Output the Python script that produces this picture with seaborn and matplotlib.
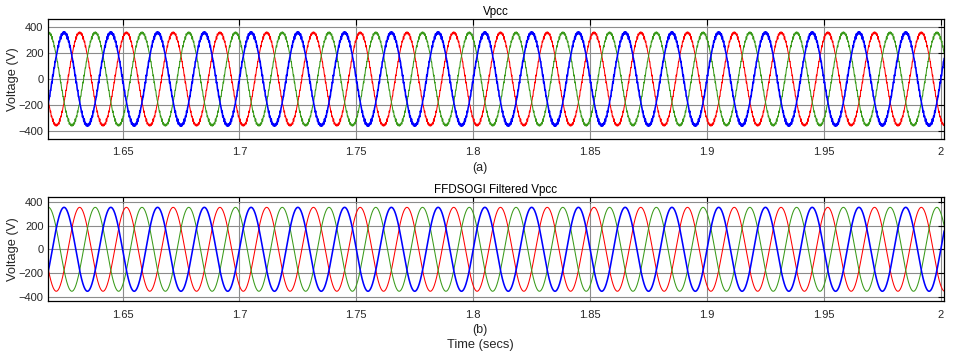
import numpy as np
import pandas as pd
import seaborn as sns
from matplotlib import pyplot as plt

# phasor values (50 Hz, ~355 V peak, 120 deg apart)
phase_names = ['a', 'b', 'c']
phase_colors = ['#ff0000', '#3a9a1a', '#0000ff']
phase_widths = [0.75, 0.75, 1.15]
peak_volts = [355, 355, 355]
phase_deg = [-120, 120, 0]
freq_hz = 50

# small switching ripple seen on the raw Vpcc trace (top panel only)
ripple_order = [37, 43, 59]
ripple_volts = [7, 6, 5]

t_start, t_end = 1.618, 2.0015
x_ticks = [1.65, 1.7, 1.75, 1.8, 1.85, 1.9, 1.95, 2.0]
x_ticklabels = ['1.65', '1.7', '1.75', '1.8', '1.85', '1.9', '1.95', '2']
y_ticks = [-400, -200, 0, 200, 400]

t = np.arange(t_start, t_end, 1 / 20000)


def build_frame(with_ripple):
    rows = []
    for name, amp, ph in zip(phase_names, peak_volts, phase_deg):
        w = 2 * np.pi * freq_hz * t + np.deg2rad(ph)
        v = amp * np.sin(w)
        if with_ripple:
            for k, rv in zip(ripple_order, ripple_volts):
                v = v + rv * np.sin(k * w)
        rows.append(pd.DataFrame({'time': t, 'volt': v, 'phase': name}))
    return pd.concat(rows, ignore_index=True)


raw_df = build_frame(True)
filt_df = build_frame(False)

sns.set_theme(style='white')
plt.rcParams['font.family'] = ['Liberation Sans', 'DejaVu Sans']

fig = plt.figure(figsize=(9.6, 3.56), dpi=100)
ax1 = fig.add_axes([47.7 / 960, 1 - 139 / 356, 896.6 / 960, 120 / 356])
ax2 = fig.add_axes([47.7 / 960, 1 - 301.3 / 356, 896.6 / 960, 104 / 356])


def style_axis(ax, ylim, title):
    ax.set_xlim(t_start, t_end)
    ax.set_ylim(*ylim)
    ax.set_xticks(x_ticks)
    ax.set_xticklabels(x_ticklabels)
    ax.set_yticks(y_ticks)
    ax.grid(True, color='#8c8c8c', linewidth=0.8)
    ax.set_axisbelow(True)
    for s in ax.spines.values():
        s.set_color('black')
        s.set_linewidth(0.9)
    ax.tick_params(direction='in', length=4, width=0.8, colors='black',
                   labelcolor='#262626', labelsize=8, top=True, right=True)
    ax.tick_params(axis='x', pad=6)
    ax.tick_params(axis='y', pad=3)
    ax.set_title(title, fontsize=8.4, pad=3, color='black')
    ax.set_ylabel('Voltage (V)', fontsize=9.3, color='#262626')
    ax.yaxis.set_label_coords(-29 / 896.6, 0.5)
    ax.set_xlabel('')


for ax, df in [(ax1, raw_df), (ax2, filt_df)]:
    for name, col, lw in zip(phase_names, phase_colors, phase_widths):
        sns.lineplot(data=df[df['phase'] == name], x='time', y='volt',
                     color=col, linewidth=lw, ax=ax, legend=False,
                     estimator=None, sort=False)

style_axis(ax1, (-460, 460), 'Vpcc')
style_axis(ax2, (-440, 440), 'FFDSOGI Filtered Vpcc')

fig.text(0.5, 1 - 168 / 356, '(a)', ha='center', va='center', fontsize=9,
         color='#262626')
fig.text(0.5, 1 - 330 / 356, '(b)', ha='center', va='center', fontsize=9,
         color='#262626')
fig.text(0.5, 1 - 345 / 356, 'Time (secs)', ha='center', va='center',
         fontsize=9.3, color='#262626')

fig.savefig('out.png', dpi=100)
